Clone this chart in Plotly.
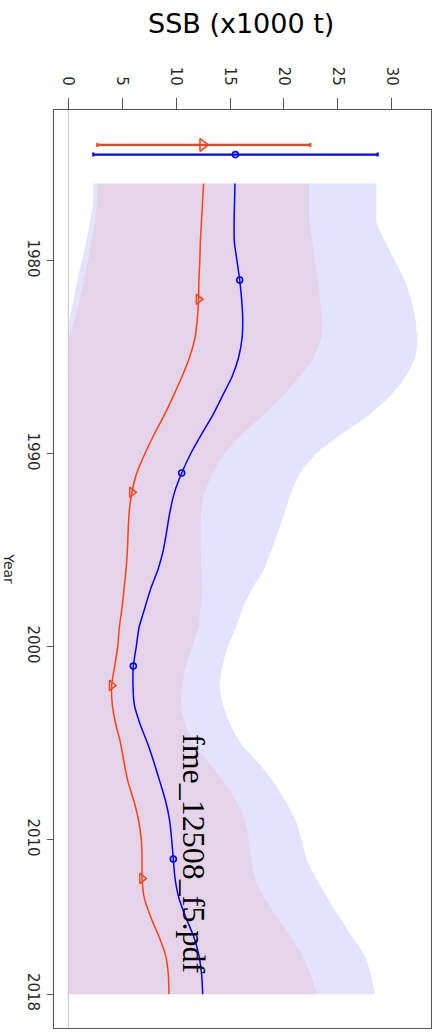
import plotly.graph_objects as go

# ---- data -------------------------------------------------------------
years = [1976, 1977, 1978, 1979, 1980, 1981, 1982, 1983, 1984, 1985,
         1986, 1987, 1988, 1989, 1990, 1991, 1992, 1993, 1994, 1995,
         1996, 1997, 1998, 1999, 2000, 2001, 2002, 2003, 2004, 2005,
         2006, 2007, 2008, 2009, 2010, 2011, 2012, 2013, 2014, 2015,
         2016, 2017, 2018]

# SSB estimate and interval, model shown in blue
blue_mid = [15.46, 15.42, 15.38, 15.40, 15.65, 15.90, 16.08, 16.18, 16.12, 15.80,
            15.20, 14.30, 13.40, 12.35, 11.35, 10.52, 9.85, 9.43, 9.13, 8.81,
            8.32, 7.64, 7.09, 6.56, 6.30, 6.03, 6.00, 6.12, 6.65, 7.35,
            7.95, 8.50, 9.03, 9.40, 9.59, 9.74, 9.90, 10.25, 10.89, 11.62,
            12.12, 12.37, 12.47]
blue_hi = [28.6, 28.6, 28.6, 29.4, 30.3, 31.2, 31.8, 32.2, 32.4, 32.2,
           31.3, 29.9, 27.9, 25.3, 23.0, 21.5, 20.7, 20.1, 19.5, 18.85,
           18.15, 17.05, 16.2, 15.55, 14.8, 14.3, 14.05, 14.35, 15.0, 16.0,
           17.6, 19.05, 20.15, 21.1, 21.65, 22.1, 23.0, 24.05, 25.15, 26.3,
           27.5, 28.1, 28.45]
blue_lo = [2.32, 2.30, 2.00, 1.65, 1.25, 0.85, 0.50, 0.12, 0.0, 0.0,
           0.0, 0.0, 0.0, 0.0, 0.0, 0.0, 0.0, 0.0, 0.0, 0.0,
           0.0, 0.0, 0.0, 0.0, 0.0, 0.0, 0.0, 0.0, 0.0, 0.0,
           0.0, 0.0, 0.0, 0.0, 0.0, 0.0, 0.0, 0.0, 0.0, 0.0,
           0.0, 0.0, 0.0]

# SSB estimate and interval, model shown in red
red_mid = [12.55, 12.45, 12.35, 12.25, 12.20, 12.12, 12.08, 11.97, 11.75, 11.25,
           10.55, 9.75, 8.90, 7.95, 7.10, 6.35, 5.90, 5.65, 5.55, 5.48,
           5.35, 5.17, 4.98, 4.73, 4.58, 4.30, 4.02, 4.08, 4.40, 4.85,
           5.17, 5.54, 6.09, 6.52, 6.77, 6.84, 6.84, 7.04, 7.64, 8.40,
           9.03, 9.28, 9.34]
red_hi = [22.33, 22.33, 22.35, 22.64, 22.90, 23.15, 23.35, 23.55, 23.45, 22.80,
          21.50, 19.90, 18.10, 16.10, 14.50, 13.40, 12.65, 12.35, 12.28, 12.28,
          12.35, 12.43, 12.25, 12.05, 11.50, 10.90, 10.58, 10.45, 10.85, 11.65,
          13.00, 14.45, 15.60, 16.40, 16.75, 17.00, 17.30, 18.20, 19.35, 20.60,
          21.70, 22.50, 23.05]
red_lo = [2.69, 2.65, 2.45, 2.15, 1.85, 1.45, 1.08, 0.62, 0.05, 0.0,
          0.0, 0.0, 0.0, 0.0, 0.0, 0.0, 0.0, 0.0, 0.0, 0.0,
          0.0, 0.0, 0.0, 0.0, 0.0, 0.0, 0.0, 0.0, 0.0, 0.0,
          0.0, 0.0, 0.0, 0.0, 0.0, 0.0, 0.0, 0.0, 0.0, 0.0,
          0.0, 0.0, 0.0]

# years carrying a symbol on each curve
blue_marker_years = [1981, 1991, 2001, 2011]
red_marker_years = [1982, 1992, 2002, 2012]

# initial-state estimate with its interval, drawn above the series
init_year = {"red": 1974.0, "blue": 1974.5}
init_est = {"red": 12.47, "blue": 15.50}
init_lo = {"red": 2.69, "blue": 2.32}
init_hi = {"red": 22.45, "blue": 28.70}

ssb_ticks = [0, 5, 10, 15, 20, 25, 30]
year_ticks = [1980, 1990, 2000, 2010, 2018]

BLUE = "#0000FF"
RED = "#FF4010"
BLUE_FILL = "rgba(0,0,255,0.11)"
RED_FILL = "rgba(255,64,16,0.09)"

fig = go.Figure()


def band(lo, hi, fill):
    fig.add_trace(go.Scatter(x=lo, y=years, mode="lines", line=dict(width=0, shape="spline", smoothing=0.6),
                             hoverinfo="skip", showlegend=False))
    fig.add_trace(go.Scatter(x=hi, y=years, mode="lines", line=dict(width=0, shape="spline", smoothing=0.6),
                             fill="tonextx", fillcolor=fill, hoverinfo="skip", showlegend=False))


band(blue_lo, blue_hi, BLUE_FILL)
band(red_lo, red_hi, RED_FILL)

# central estimates
fig.add_trace(go.Scatter(x=blue_mid, y=years, mode="lines",
                         line=dict(color=BLUE, width=1.5, shape="spline", smoothing=0.6), showlegend=False))
fig.add_trace(go.Scatter(x=red_mid, y=years, mode="lines",
                         line=dict(color=RED, width=1.5, shape="spline", smoothing=0.6), showlegend=False))

# symbols on the curves
fig.add_trace(go.Scatter(x=[blue_mid[years.index(y)] for y in blue_marker_years], y=blue_marker_years,
                         mode="markers", showlegend=False,
                         marker=dict(symbol="circle-open", size=6, color=BLUE, line=dict(width=1.6, color=BLUE))))
fig.add_trace(go.Scatter(x=[red_mid[years.index(y)] for y in red_marker_years], y=red_marker_years,
                         mode="markers", showlegend=False,
                         marker=dict(symbol="triangle-right-open", size=9, color=RED, line=dict(width=1.4, color=RED))))

# initial-state intervals
for key, col, sym, sz in (("red", RED, "triangle-right-open", 11), ("blue", BLUE, "circle-open", 6)):
    est = init_est[key]
    fig.add_trace(go.Scatter(
        x=[est], y=[init_year[key]], mode="markers", showlegend=False,
        marker=dict(symbol=sym, size=sz, color=col, line=dict(width=1.6, color=col)),
        error_x=dict(type="data", symmetric=False, array=[init_hi[key] - est],
                     arrayminus=[est - init_lo[key]], color=col, thickness=2.2, width=2)))

# reference line at zero
fig.add_shape(type="line", xref="x", yref="paper", x0=0, x1=0, y0=0, y1=1,
              line=dict(color="#C4C4C4", width=1), layer="above")

tick_font = dict(family="DejaVu Sans", size=15, color="#2a2a2a")

fig.update_layout(
    width=438, height=1033,
    margin=dict(l=54, r=7, t=110, b=5),
    paper_bgcolor="white", plot_bgcolor="white",
    xaxis=dict(side="top", range=[-1.33, 33.65], tickvals=ssb_ticks, ticks="outside", ticklen=11,
               tickcolor="#555", tickangle=90, tickfont=tick_font, ticklabelstandoff=7,
               showgrid=False, zeroline=False, showline=True, mirror=True, linecolor="#555", linewidth=1),
    yaxis=dict(range=[2019.75, 1972.19], tickvals=year_ticks, ticks="outside", ticklen=6,
               tickcolor="#555", tickangle=90, tickfont=tick_font, ticklabelstandoff=1,
               showgrid=False, zeroline=False, showline=True, mirror=True, linecolor="#555", linewidth=1),
    annotations=[
        dict(text="SSB (x1000 t)", xref="paper", yref="paper", x=0.495, y=1.094,
             xanchor="center", yanchor="middle", showarrow=False,
             font=dict(family="DejaVu Sans", size=27, color="black")),
        dict(text="Year", xref="paper", yref="paper", x=-0.120, y=0.5, textangle=90,
             xanchor="center", yanchor="middle", showarrow=False,
             font=dict(family="DejaVu Sans", size=14, color="#2a2a2a")),
        dict(text="fme_12508_f5.pdf", xref="x", yref="y", x=11.6, y=2010.7, textangle=90,
             xanchor="center", yanchor="middle", showarrow=False,
             font=dict(family="Liberation Serif", size=32, color="black")),
    ],
)

fig.write_html("out.html")
